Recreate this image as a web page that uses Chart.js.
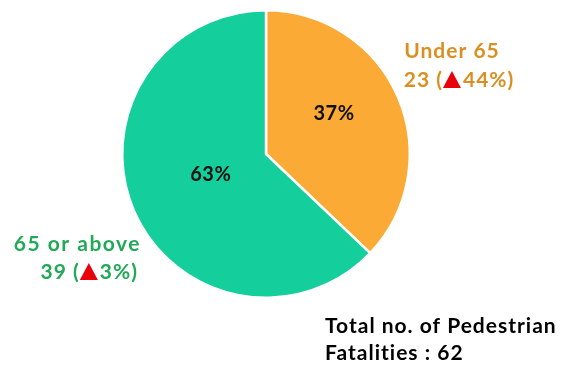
<!DOCTYPE html>
<html>
<head>
<meta charset="utf-8">
<script src="https://cdn.jsdelivr.net/npm/chart.js@4"></script>
<style>
  html, body { margin: 0; padding: 0; background: #fff; }
  #wrap { width: 567px; height: 365px; }
</style>
</head>
<body>
<div id="wrap"><canvas id="pieChart"></canvas></div>
<script>
// age groups and fatality counts
var groups = ['Under 65', '65 or above'];
var fatalities = [23, 39];
var changes = ['44%', '3%'];
var sliceColors = ['#FBAA35', '#14CE9C'];
var textColors = ['#DB8F22', '#22A957'];
var total = fatalities[0] + fatalities[1];

var FONT = '"Lato", "DejaVu Sans", sans-serif';

function setFont(ctx, size, spacing) {
  ctx.font = 'bold ' + size + 'px ' + FONT;
  ctx.letterSpacing = spacing + 'px';
}

// draws "N (▲x%)" with a red up triangle
function drawCountLine(ctx, x, y, count, change, color, align) {
  setFont(ctx, 21, 1);
  var a = count + ' (';
  var b = change + ')';
  var triW = 18;
  var w = ctx.measureText(a).width + triW + 2 + ctx.measureText(b).width;
  var sx = align === 'right' ? x - w : x - w / 2;
  ctx.textAlign = 'left';
  ctx.textBaseline = 'middle';
  ctx.fillStyle = color;
  ctx.fillText(a, sx, y);
  var tx = sx + ctx.measureText(a).width;
  ctx.fillStyle = '#E8000B';
  ctx.beginPath();
  ctx.moveTo(tx, y + 8);
  ctx.lineTo(tx + triW, y + 8);
  ctx.lineTo(tx + triW / 2, y - 9);
  ctx.closePath();
  ctx.fill();
  ctx.fillStyle = color;
  ctx.fillText(b, tx + triW + 2, y);
}

var labelPlugin = {
  id: 'pieLabels',
  afterDatasetsDraw: function(chart) {
    var ctx = chart.ctx;
    var meta = chart.getDatasetMeta(0);
    var fracs = [0.55, 0.41];
    var shifts = [-0.13, 0.05];
    ctx.save();
    // percentages inside the slices
    meta.data.forEach(function(arc, i) {
      var mid = (arc.startAngle + arc.endAngle) / 2 + shifts[i];
      var r = arc.outerRadius * fracs[i];
      var x = arc.x + Math.cos(mid) * r;
      var y = arc.y + Math.sin(mid) * r;
      setFont(ctx, 20, 0.5);
      ctx.fillStyle = '#111';
      ctx.textAlign = 'center';
      ctx.textBaseline = 'middle';
      ctx.fillText(Math.round(fatalities[i] / total * 100) + '%', x, y);
    });

    // outside group labels
    setFont(ctx, 21, 1);
    ctx.textAlign = 'center';
    ctx.textBaseline = 'middle';
    ctx.fillStyle = textColors[0];
    ctx.fillText(groups[0], 452, 51);
    drawCountLine(ctx, 459, 80, fatalities[0], changes[0], textColors[0], 'center');

    setFont(ctx, 21, 1.5);
    ctx.textAlign = 'right';
    ctx.fillStyle = textColors[1];
    ctx.fillText(groups[1], 141, 244);
    drawCountLine(ctx, 138, 272, fatalities[1], changes[1], textColors[1], 'right');

    // total note
    setFont(ctx, 21, 1);
    ctx.textAlign = 'left';
    ctx.fillStyle = '#000';
    ctx.fillText('Total no. of Pedestrian', 325, 326);
    ctx.fillText('Fatalities : ' + total, 325, 353);
    ctx.restore();
  }
};

new Chart(document.getElementById('pieChart'), {
  type: 'pie',
  data: {
    labels: groups,
    datasets: [{
      data: fatalities,
      backgroundColor: sliceColors,
      borderColor: '#ffffff',
      borderWidth: 2.5
    }]
  },
  options: {
    responsive: true,
    maintainAspectRatio: false,
    animation: false,
    layout: { padding: { top: 9, bottom: 66, left: 121, right: 156 } },
    plugins: {
      legend: { display: false },
      tooltip: { enabled: false }
    }
  },
  plugins: [labelPlugin]
});
</script>
</body>
</html>
